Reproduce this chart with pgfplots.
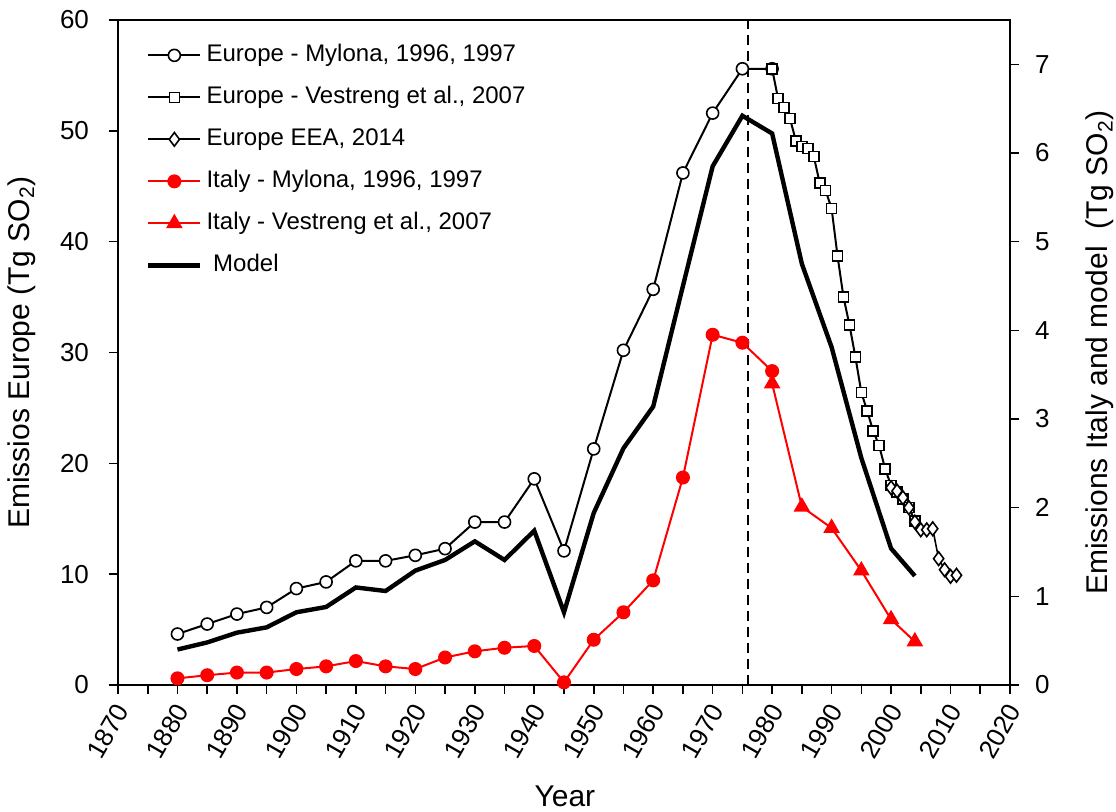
\documentclass[border=0pt]{standalone}
\usepackage{fontspec}
\setmainfont{Liberation Sans}
\usepackage{pgfplots}
\pgfplotsset{compat=1.18}
\begin{document}
\begin{tikzpicture}
\pgfplotsset{
 common/.style={
   scale only axis, width=446pt, height=332.5pt,
   xmin=1870, xmax=2020,
   /pgf/number format/assume math mode=true,
   /pgf/number format/1000 sep={},
   tick label style={font=\fontsize{13}{15}\selectfont},
   label style={font=\fontsize{15}{18}\selectfont},
   tick align=outside, major tick length=4.5pt, minor tick length=4.5pt,
   axis line style={line width=0.8pt},
   every tick/.style={black, line width=0.8pt},
 },
 openmk/.style={mark options={solid, fill=white, line width=0.8pt}},
}
\begin{axis}[common,
  ymin=0, ymax=60, ytick={0,10,...,60},
  tick pos=left,
  xtick={1870,1880,...,2020},
  minor xtick={1875,1885,...,2015},
  xticklabel style={xshift=4pt, yshift=-3pt, rotate=60, anchor=east},
  yticklabel style={xshift=-6.5pt},
  xlabel={Year},
  xlabel style={at={(axis description cs:0.501,-0.168)}, anchor=center},
  ylabel={Emissios Europe (Tg SO\textsubscript{2})},
  ylabel style={at={(axis description cs:-0.108,0.5)}, anchor=center},
]
% dashed reference line
\addplot[black, dashed, line width=1pt, dash pattern=on 5pt off 3pt, forget plot] coordinates {(1976,0) (1976,60)};
% Europe - Mylona
\addplot[black, line width=1pt, mark=*, mark size=3pt, openmk] coordinates {
(1880,4.6) (1885,5.5) (1890,6.4) (1895,7.0) (1900,8.7) (1905,9.3) (1910,11.2) (1915,11.2)
(1920,11.7) (1925,12.3) (1930,14.7) (1935,14.7) (1940,18.6) (1945,12.1) (1950,21.3)
(1955,30.2) (1960,35.7) (1965,46.2) (1970,51.6) (1975,55.6) (1980,55.6)};
% Europe - Vestreng
\addplot[black, line width=1pt, mark=square*, mark size=2.5pt, openmk] coordinates {
(1980,55.6) (1981,52.9) (1982,52.1) (1983,51.1) (1984,49.1) (1985,48.6) (1986,48.4)
(1987,47.7) (1988,45.3) (1989,44.6) (1990,43.0) (1991,38.7) (1992,35.0) (1993,32.5)
(1994,29.6) (1995,26.4) (1996,24.7) (1997,22.9) (1998,21.6) (1999,19.5) (2000,18.0)
(2001,17.4) (2002,16.8) (2003,16.0) (2004,14.8)};
% Europe EEA
\addplot[black, line width=0.8pt, mark=diamond*, mark size=3.4pt, openmk] coordinates {
(2000,17.8) (2001,17.5) (2002,16.9) (2003,16.0) (2004,14.7) (2005,14.0) (2006,14.0)
(2007,14.1) (2008,11.4) (2009,10.4) (2010,9.8) (2011,9.9)};
\end{axis}
\begin{axis}[common,
  ymin=0, ymax=7.5, ytick={0,1,...,7},
  axis y line*=right, axis x line=none,
  yticklabel style={xshift=4.5pt},
  ylabel={Emissions Italy and model\ \ (Tg SO\textsubscript{2})},
  ylabel style={at={(axis description cs:1.101,0.5)}, anchor=center},
  legend cell align=left,
  legend style={at={(axis description cs:0.0244,0.9775)}, anchor=north west,
    draw=none, fill=none, font=\fontsize{12}{14}\selectfont, row sep=5pt,
    nodes={inner sep=2pt, text height=9pt, text depth=3pt}},
  legend image code/.code={\draw[mark repeat=2,mark phase=2] plot coordinates {(0pt,0pt) (13pt,0pt) (26pt,0pt)};},
]
\addlegendimage{black, line width=1pt, mark=*, mark size=3pt, openmk}
\addlegendentry{Europe - Mylona, 1996, 1997}
\addlegendimage{black, line width=1pt, mark=square*, mark size=2.5pt, openmk}
\addlegendentry{Europe - Vestreng et al., 2007}
\addlegendimage{black, line width=1pt, mark=diamond*, mark size=3.4pt, openmk}
\addlegendentry{Europe EEA, 2014}
% Italy - Mylona
\addplot[red, line width=1pt, mark=*, mark size=3pt, mark options={solid, fill=red}] coordinates {
(1880,0.075) (1885,0.11) (1890,0.14) (1895,0.14) (1900,0.18) (1905,0.21) (1910,0.27)
(1915,0.21) (1920,0.18) (1925,0.31) (1930,0.38) (1935,0.42) (1940,0.44) (1945,0.03)
(1950,0.51) (1955,0.82) (1960,1.18) (1965,2.34) (1970,3.95) (1975,3.86) (1980,3.54)};
\addlegendentry{Italy - Mylona, 1996, 1997}
% Italy - Vestreng
\addplot[red, line width=1pt, mark=triangle*, mark size=3.8pt, mark options={solid, fill=red}] coordinates {
(1980,3.40) (1985,2.01) (1990,1.77) (1995,1.29) (2000,0.74) (2004,0.49)};
\addlegendentry{Italy - Vestreng et al., 2007}
% Model
\addplot[black, line width=2.2pt, mark=none] coordinates {
(1880,0.40) (1885,0.48) (1890,0.59) (1895,0.65) (1900,0.82) (1905,0.88) (1910,1.10)
(1915,1.06) (1920,1.29) (1925,1.41) (1930,1.62) (1935,1.41) (1940,1.74) (1945,0.82)
(1950,1.94) (1955,2.67) (1960,3.14) (1965,4.5) (1970,5.85) (1975,6.42) (1980,6.22)
(1985,4.75) (1990,3.81) (1995,2.56) (2000,1.54) (2004,1.23)};
\addlegendentry{\ Model}
\end{axis}
\pgfresetboundingbox
\path[use as bounding box] (-59pt,-63.5pt) rectangle (499pt,342.5pt);
\end{tikzpicture}
\end{document}
